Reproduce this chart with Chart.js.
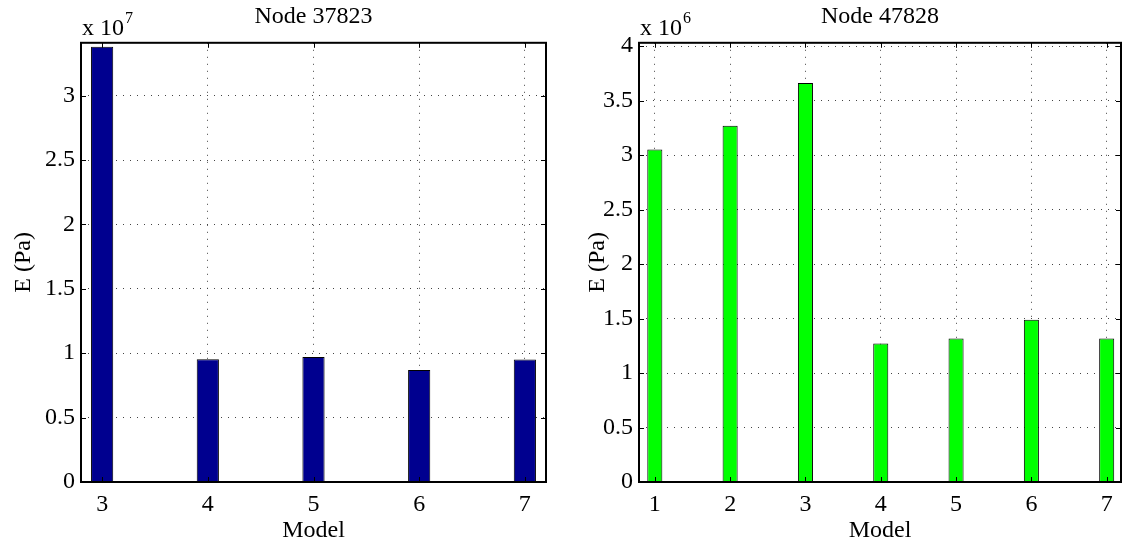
<!DOCTYPE html>
<html>
<head>
<meta charset="utf-8">
<title>Node E (Pa)</title>
<script src="https://cdn.jsdelivr.net/npm/chart.js@4.4.1/dist/chart.umd.min.js"></script>
<style>
  html, body { margin: 0; padding: 0; background: #fff; }
  #wrap { position: relative; width: 1125px; height: 548px; }
  .panel { position: absolute; top: 0; height: 548px; }
  #p1 { left: 0; width: 562px; }
  #p2 { left: 562px; width: 563px; }
</style>
</head>
<body>
<div id="wrap">
  <div class="panel" id="p1"><canvas id="c1"></canvas></div>
  <div class="panel" id="p2"><canvas id="c2"></canvas></div>
</div>
<script>
// ---- Node 37823 ----
const models1 = [3, 4, 5, 6, 7];
const e1 = [3.38e7, 0.954e7, 0.970e7, 0.869e7, 0.952e7];
const xTicks1 = [3, 4, 5, 6, 7];
const yTicks1 = [0, 0.5, 1, 1.5, 2, 2.5, 3];      // x 10^7

// ---- Node 47828 ----
const models2 = [1, 2, 3, 4, 5, 6, 7];
const e2 = [3.05e6, 3.27e6, 3.66e6, 1.271e6, 1.317e6, 1.488e6, 1.317e6];
const xTicks2 = [1, 2, 3, 4, 5, 6, 7];
const yTicks2 = [0, 0.5, 1, 1.5, 2, 2.5, 3, 3.5, 4]; // x 10^6

const FONT = '"Liberation Serif", "Times New Roman", serif';

// MATLAB-style box, inward ticks and the "x 10^n" multiplier
const matlabAxes = {
  id: 'matlabAxes',
  afterDraw(chart, args, opts) {
    const ctx = chart.ctx;
    const a = chart.chartArea;
    const xs = chart.scales.x, ys = chart.scales.y;
    ctx.save();
    ctx.strokeStyle = '#000';
    ctx.lineWidth = 1;
    ctx.beginPath();
    xs.ticks.forEach(function (t) {
      const px = Math.round(xs.getPixelForValue(t.value)) + 0.5;
      ctx.moveTo(px, a.bottom); ctx.lineTo(px, a.bottom - 5);
      ctx.moveTo(px, a.top); ctx.lineTo(px, a.top + 5);
    });
    ys.ticks.forEach(function (t) {
      const py = Math.round(ys.getPixelForValue(t.value)) + 0.5;
      ctx.moveTo(a.left, py); ctx.lineTo(a.left + 5, py);
      ctx.moveTo(a.right, py); ctx.lineTo(a.right - 5, py);
    });
    ctx.stroke();
    ctx.lineWidth = 2;
    ctx.strokeRect(a.left, a.top, a.right - a.left, a.bottom - a.top);

    ctx.fillStyle = '#000';
    ctx.textBaseline = 'alphabetic';
    ctx.textAlign = 'left';
    ctx.font = '24px ' + FONT;
    const base = 'x 10';
    ctx.fillText(base, a.left + 1, a.top - 8);
    const w = ctx.measureText(base).width;
    ctx.font = '16px ' + FONT;
    ctx.fillText(String(opts.exp), a.left + 1 + w + 1, a.top - 20);
    ctx.restore();
  }
};

function makeChart(id, cfg) {
  const mult = Math.pow(10, cfg.exp);
  return new Chart(document.getElementById(id), {
    type: 'bar',
    data: {
      datasets: [{
        data: cfg.models.map(function (m, i) { return { x: m, y: cfg.values[i] }; }),
        backgroundColor: cfg.color,
        borderColor: '#000',
        borderWidth: 1,
        categoryPercentage: 1,
        barPercentage: cfg.barPct
      }]
    },
    options: {
      responsive: true,
      maintainAspectRatio: false,
      animation: false,
      layout: { padding: { top: 0, right: cfg.padRight, bottom: 0, left: 0 } },
      plugins: {
        legend: { display: false },
        tooltip: { enabled: false },
        title: {
          display: true,
          text: cfg.title,
          fullSize: false,
          color: '#000',
          font: { family: FONT, size: 24, weight: 'normal' },
          padding: { top: 2, bottom: 12 }
        },
        matlabAxes: { exp: cfg.exp }
      },
      scales: {
        x: {
          type: 'linear',
          min: cfg.xMin,
          max: cfg.xMax,
          offset: false,
          afterBuildTicks: function (s) {
            s.ticks = cfg.xTicks.map(function (v) { return { value: v }; });
          },
          afterFit: function (s) { s.height = 66; },
          ticks: {
            autoSkip: false,
            maxRotation: 0,
            padding: 8,
            color: '#000',
            font: { family: FONT, size: 24 },
            callback: function (v) { return String(v); }
          },
          grid: { offset: false, drawTicks: false, color: '#444', lineWidth: 1 },
          border: { display: false, dash: [1, 6] },
          title: {
            display: true,
            text: 'Model',
            color: '#000',
            font: { family: FONT, size: 24 },
            padding: { top: 0, bottom: 3 }
          }
        },
        y: {
          type: 'linear',
          min: 0,
          max: cfg.yMax * mult,
          afterBuildTicks: function (s) {
            s.ticks = cfg.yTicks.map(function (v) { return { value: v * mult }; });
          },
          afterFit: function (s) { s.width = cfg.yWidth; },
          ticks: {
            autoSkip: false,
            padding: 6,
            color: '#000',
            font: { family: FONT, size: 24 },
            callback: function (v, i) { return String(cfg.yTicks[i]); }
          },
          grid: { drawTicks: false, color: '#444', lineWidth: 1 },
          border: { display: false, dash: [1, 6] },
          title: {
            display: true,
            text: 'E (Pa)',
            color: '#000',
            font: { family: FONT, size: 24 },
            padding: { top: cfg.yTitlePad, bottom: 0 }
          }
        }
      }
    },
    plugins: [matlabAxes]
  });
}

makeChart('c1', {
  title: 'Node 37823', models: models1, values: e1, xTicks: xTicks1, yTicks: yTicks1,
  exp: 7, xMin: 2.8, xMax: 7.2, yMax: 3.41, color: '#00008F', barPct: 0.21,
  padRight: 16, yWidth: 81, yTitlePad: 9
});

makeChart('c2', {
  title: 'Node 47828', models: models2, values: e2, xTicks: xTicks2, yTicks: yTicks2,
  exp: 6, xMin: 0.79, xMax: 7.19, yMax: 4.03, color: '#00FF00', barPct: 0.2,
  padRight: 4, yWidth: 77, yTitlePad: 21
});
</script>
</body>
</html>
